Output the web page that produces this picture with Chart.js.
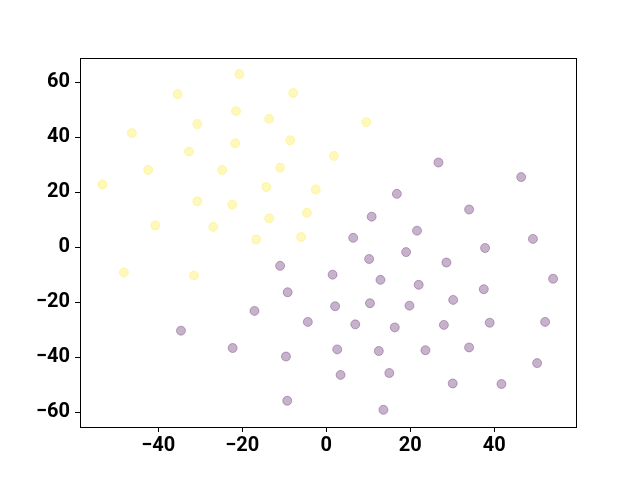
<!DOCTYPE html>
<html>
<head>
<meta charset="utf-8">
<script src="https://cdn.jsdelivr.net/npm/chart.js@4.4.1/dist/chart.umd.min.js"></script>
<style>
html,body{margin:0;padding:0;background:#fff;}
#wrap{width:640px;height:480px;position:relative;}
</style>
</head>
<body>
<div id="wrap"><canvas id="c" width="640" height="480"></canvas></div>
<script>
const yellowX = [-20.7,-35.4,-7.9,-21.5,-13.6,-30.7,-46.3,-21.7,-8.6,-32.7,-42.4,-24.8,-11.0,-53.3,-14.3,-2.5,-30.7,-22.4,-13.6,-4.6,-40.7,-26.9,-16.7,-6.0,9.5,1.8,-48.2,-31.5];
const yellowY = [63.0,55.7,56.1,49.5,46.7,44.8,41.5,37.8,38.9,34.8,28.1,28.1,28.9,22.8,21.9,21.0,16.7,15.5,10.5,12.5,7.9,7.4,2.8,3.7,45.5,33.2,-9.2,-10.3];
const purpleX = [26.7,46.4,16.8,34.0,10.8,21.6,6.4,49.2,37.8,-11.0,-9.2,-17.1,-4.4,-34.6,-22.3,-9.6,-9.3,10.2,19.0,28.6,1.5,12.9,22.0,37.5,54.0,2.1,10.4,19.8,30.2,6.9,16.3,28.0,38.9,52.1,2.6,12.5,23.6,34.0,50.2,3.4,15.0,30.1,41.7,13.6];
const purpleY = [30.8,25.5,19.4,13.7,11.1,6.0,3.4,3.0,-0.3,-6.8,-16.4,-23.2,-27.2,-30.4,-36.7,-39.8,-55.9,-4.3,-1.8,-5.6,-10.0,-11.9,-13.7,-15.3,-11.5,-21.5,-20.4,-21.3,-19.2,-28.1,-29.2,-28.3,-27.5,-27.2,-37.2,-37.8,-37.5,-36.5,-42.2,-46.5,-45.8,-49.6,-49.8,-59.2];
const xTicks = [-40,-20,0,20,40];
const yTicks = [-60,-40,-20,0,20,40,60];

const toPts = (xs, ys) => xs.map((x, i) => ({x: x, y: ys[i]}));
const fmt = v => (v < 0 ? '\u2212' + Math.abs(v) : String(v));
const tickFont = {family: 'Roboto', weight: 'bold', size: 20};

const frame = {
  id: 'frame',
  afterDraw(chart) {
    const a = chart.chartArea, ctx = chart.ctx;
    ctx.save();
    ctx.strokeStyle = '#000';
    ctx.lineWidth = 1;
    ctx.strokeRect(Math.round(a.left) + 0.5, Math.round(a.top) + 0.5, Math.round(a.right - a.left), Math.round(a.bottom - a.top));
    ctx.restore();
  }
};

new Chart(document.getElementById('c'), {
  type: 'scatter',
  data: {
    datasets: [
      {data: toPts(yellowX, yellowY), backgroundColor: 'rgba(253,231,37,0.3)', borderColor: 'rgba(253,231,37,0.3)', borderWidth: 1, pointRadius: 4.5},
      {data: toPts(purpleX, purpleY), backgroundColor: 'rgba(68,1,84,0.3)', borderColor: 'rgba(68,1,84,0.3)', borderWidth: 1, pointRadius: 4.5}
    ]
  },
  options: {
    responsive: false,
    animation: false,
    devicePixelRatio: 1,
    layout: {padding: {top: 58, right: 64, left: 0, bottom: 0}},
    plugins: {legend: {display: false}, tooltip: {enabled: false}},
    scales: {
      x: {
        type: 'linear', min: -58.64, max: 59.45,
        afterBuildTicks: s => { s.ticks = xTicks.map(v => ({value: v})); },
        afterFit: s => { s.height = 53; },
        grid: {drawOnChartArea: false, drawTicks: true, tickLength: 5, color: '#000'},
        border: {display: true, color: '#000', width: 1},
        ticks: {color: '#000', font: tickFont, padding: 2, maxRotation: 0, callback: v => fmt(v)}
      },
      y: {
        type: 'linear', min: -65.45, max: 68.84,
        afterBuildTicks: s => { s.ticks = yTicks.map(v => ({value: v})); },
        afterFit: s => { s.width = 80; },
        grid: {drawOnChartArea: false, drawTicks: true, tickLength: 5, color: '#000'},
        border: {display: true, color: '#000', width: 1},
        ticks: {color: '#000', font: tickFont, padding: 5, callback: v => fmt(v)}
      }
    }
  },
  plugins: [frame]
});
</script>
</body>
</html>
